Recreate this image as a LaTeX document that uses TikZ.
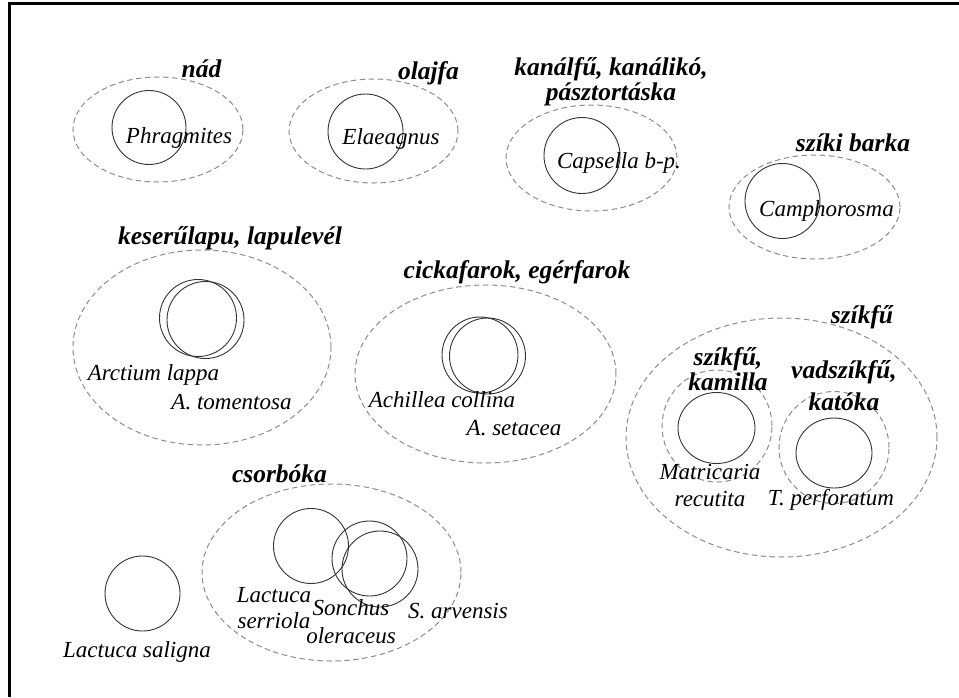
\documentclass[tikz,border=0pt]{standalone}
\usepackage{fontspec}
\setmainfont{Liberation Serif}
\begin{document}
\begin{tikzpicture}[x=1pt,y=-1pt,
  group/.style={draw=black!45,line width=1pt,dash pattern=on 5.5pt off 3.5pt},
  taxon/.style={draw=black!80,line width=0.9pt},
  latin/.style={font=\fontsize{23}{28}\selectfont\itshape,inner sep=0pt,anchor=base,align=center},
  common/.style={font=\fontsize{25.5}{23}\selectfont\bfseries\itshape,inner sep=0pt,anchor=base,align=center}]
\useasboundingbox (0,0) rectangle (959,697);
% frame (top and left edges)
\draw[line width=3.5pt] (9.5,3.25) -- (959,3.25);
\draw[line width=3.5pt] (9.5,1.5) -- (9.5,697);

% nád
\draw[group] (158,129.5) ellipse [x radius=85pt,y radius=52.5pt];
\draw[taxon] (149,127.5) circle [radius=37pt];
\node[latin] (phr) at (179,143) {Phragmites};
\node[common] (nad) at (201.5,77) {nád};

% olajfa
\draw[group] (373.5,131) ellipse [x radius=84.5pt,y radius=52pt];
\draw[taxon] (365.5,131.5) circle [radius=37.5pt];
\node[latin] (ela) at (391,144) {Elaeagnus};
\node[common] (ola) at (428.5,79) {olajfa};

% kanálfű
\draw[group] (591.5,158) ellipse [x radius=85.5pt,y radius=53pt];
\draw[taxon] (582,155.5) circle [radius=38pt];
\node[latin] (cap) at (619,168) {Capsella b-p.};
\node[common,font=\fontsize{25.5}{22}\selectfont\bfseries\itshape] (kan) at (611,100) {kanálfű, kanálikó,\\pásztortáska};

% szíki barka
\draw[group] (814.5,207) ellipse [x radius=85.5pt,y radius=52pt];
\draw[taxon] (782.5,201) circle [radius=37.5pt];
\node[latin] (cam) at (826.5,216) {Camphorosma};
\node[common] (szb) at (853,151) {szíki barka};

% keserűlapu
\draw[group] (202,347.5) ellipse [x radius=129pt,y radius=97.5pt];
\draw[taxon] (198,318) circle [radius=38.5pt];
\draw[taxon] (205.5,320) circle [radius=38.5pt];
\node[latin] (arl) at (153.5,380) {Arctium lappa};
\node[latin] (art) at (231.5,409) {A. tomentosa};
\node[common] (kes) at (230,244) {keserűlapu, lapulevél};

% cickafarok
\draw[group] (485.5,374) ellipse [x radius=130.5pt,y radius=89pt];
\draw[taxon] (480,355) circle [radius=38pt];
\draw[taxon] (487.5,356) circle [radius=38pt];
\node[latin] (acc) at (442,407) {Achillea collina};
\node[latin] (acs) at (514,435) {A. setacea};
\node[common] (cic) at (517,278) {cickafarok, egérfarok};

% szíkfű
\draw[group] (781.5,437.5) ellipse [x radius=155.5pt,y radius=119.5pt];
\node[common] (szk) at (862,323) {szíkfű};
\draw[group] (717,426) ellipse [x radius=55pt,y radius=56pt];
\draw[taxon] (716.5,428) ellipse [x radius=38.5pt,y radius=35.5pt];
\node[common,font=\fontsize{25.5}{23}\selectfont\bfseries\itshape] (kam) at (728,390) {szíkfű,\\kamilla};
\draw[group] (834,447.5) ellipse [x radius=55pt,y radius=56pt];
\draw[taxon] (834,453) ellipse [x radius=38pt,y radius=35pt];
\node[common,font=\fontsize{25.5}{32}\selectfont\bfseries\itshape] (kat) at (844,410) {vadszíkfű,\\katóka};
\node[latin,font=\fontsize{23}{27}\selectfont\itshape] (mat) at (710,506) {Matricaria\\recutita};
\node[latin] (tpe) at (831,505) {T. perforatum};

% csorbóka
\draw[group] (331.5,572.5) ellipse [x radius=129.5pt,y radius=88.5pt];
\node[common] (cso) at (279.5,482) {csorbóka};
\draw[taxon] (311,546) circle [radius=37.5pt];
\draw[taxon] (369.5,558.5) circle [radius=37.5pt];
\draw[taxon] (380,569) circle [radius=38pt];
\node[latin,font=\fontsize{23}{26}\selectfont\itshape] (lse) at (274,628) {Lactuca\\serriola};
\node[latin] (son) at (351,643) {Sonchus\\oleraceus};
\node[latin] (sar) at (458,618) {S. arvensis};

% Lactuca saligna
\draw[taxon] (142.5,593.5) circle [radius=37.5pt];
\node[latin] (lsa) at (137,657) {Lactuca saligna};
\end{tikzpicture}
\end{document}
